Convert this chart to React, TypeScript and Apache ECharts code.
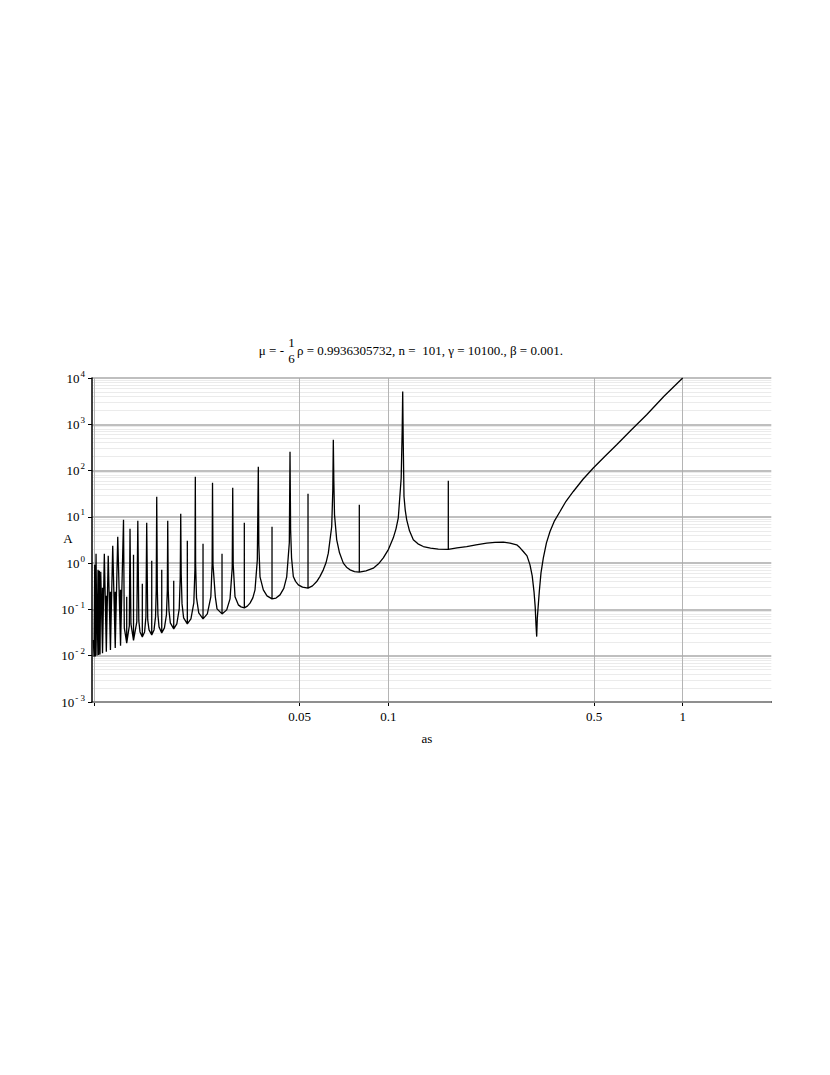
import { useEffect, useRef } from 'react';
import * as echarts from 'echarts';

// ---- data (as, A) ----
const denseAs = [0.009953, 0.010008, 0.010063, 0.010110, 0.010166, 0.010245, 0.010326, 0.010374, 0.010431, 0.010489, 0.010546, 0.010696, 0.010696, 0.010696, 0.010847, 0.011018, 0.011018, 0.011018, 0.011183, 0.011378, 0.011378, 0.011378, 0.011584, 0.011813, 0.011813, 0.011813, 0.012047, 0.012314, 0.012314, 0.012314, 0.012603, 0.012682, 0.012923, 0.012923, 0.012923, 0.013189, 0.013261, 0.013355, 0.013629, 0.013629, 0.013629, 0.013985, 0.014095, 0.014206, 0.014340, 0.014600, 0.014600, 0.014600, 0.014865, 0.015017, 0.015111];
const denseA = [0.02196, 0.009514, 0.9188, 0.009658, 1.589, 0.01005, 0.7163, 0.01041, 0.6816, 0.01067, 0.6485, 0.01127, 0.2923, 0.01127, 1.589, 0.01221, 0.1964, 0.01221, 1.438, 0.01335, 0.2396, 0.01335, 2.366, 0.01475, 0.2396, 0.01475, 3.704, 0.01645, 0.2647, 0.01645, 8.635, 0.03991, 0.01873, 0.1868, 0.01873, 0.04408, 5.516, 0.0487, 0.02153, 1.512, 0.02153, 0.05378, 8.216, 0.05653, 0.0327, 0.0255, 0.3567, 0.0255, 0.0327, 0.06901, 7.435];

const midAs = [
  0.015231, 0.015387, 0.015716, 0.015716, 0.015716, 0.016001, 0.016190, 0.016279, 0.016343,
  0.016420, 0.016497, 0.016640, 0.016995, 0.016995, 0.016995, 0.017358, 0.017631, 0.017756, 0.017811,
  0.017881, 0.017993, 0.018177, 0.018667, 0.018667, 0.018667, 0.019125, 0.019487, 0.019640, 0.019717,
  0.019794, 0.019918, 0.020169, 0.020761, 0.020761, 0.020761, 0.021354, 0.021844, 0.022033, 0.022102,
  0.022154, 0.022310, 0.022698, 0.023474, 0.023474, 0.023474, 0.024277, 0.024950, 0.025206, 0.025284,
  0.025383, 0.025844, 0.026190, 0.027234, 0.027234, 0.027234, 0.028254, 0.028993, 0.029496, 0.029612,
  0.029728, 0.030149, 0.030938, 0.031598, 0.032424, 0.032424, 0.032424, 0.033194, 0.033902, 0.034655, 0.035254, 0.035894, 0.036176,
  0.036318, 0.036660, 0.037619, 0.038718, 0.040268, 0.040268, 0.040268, 0.041544, 0.042868, 0.044157, 0.045174, 0.046102, 0.046355,
];
const midA = [
  0.05941, 0.03612, 0.02817, 1.121, 0.02817, 0.03612, 0.06901, 0.2647, 27.14,
  0.2647, 0.07624, 0.04195, 0.03111, 0.7163, 0.03111, 0.03991, 0.07624, 0.2647, 8.216,
  0.2647, 0.09304, 0.05118, 0.03797, 0.4145, 0.03797, 0.0487, 0.1028, 0.4811, 11.64,
  0.5585, 0.1318, 0.06566, 0.0487, 3.035, 0.0487, 0.06247, 0.1386, 0.7163, 73.41,
  0.9188, 0.1777, 0.08422, 0.06247, 2.614, 0.06247, 0.08012, 0.1868, 0.9188, 54.48,
  0.9188, 0.1868, 0.1028, 0.08012, 1.589, 0.08012, 0.09779, 0.1692, 0.7913, 42.47,
  0.9188, 0.1868, 0.1255, 0.1135, 0.108, 7.435, 0.108, 0.1175, 0.1365, 0.1777, 0.2647, 1.179, 120.8,
  2.487, 0.5057, 0.2647, 0.1964, 0.1692, 6.094, 0.1692, 0.1759, 0.2063, 0.2851, 0.5057, 2.748, 254.9,
];

const bigAs = [
  0.046573, 0.046916, 0.047567, 0.048408, 0.049464, 0.051117, 0.053363, 0.053363, 0.053363, 0.055266, 0.057120, 0.058614, 0.060146, 0.061428, 0.062545, 0.064231, 0.064786, 0.065040,
  0.065295, 0.065654, 0.066793, 0.068265, 0.070331, 0.072111, 0.074115, 0.076766, 0.079707, 0.079707, 0.079707, 0.083993, 0.088929, 0.092624, 0.096165, 0.10015, 0.10398, 0.10620, 0.10813, 0.11061, 0.11148, 0.11192,
];
const bigA = [
  5.248, 1.302, 0.5133, 0.4042, 0.3395, 0.3028, 0.288, 31.5, 0.288, 0.323, 0.4002, 0.5185, 0.7163, 1.015, 1.645, 6.185, 38.45, 463.4,
  63.26, 11.07, 3.19, 1.67, 1.0, 0.8193, 0.7163, 0.6583, 0.6389, 18.22, 0.6389, 0.6816, 0.7798, 0.9657, 1.302, 1.988, 3.524, 5.516, 9.538, 69.87, 762.4, 5132,
];

const tailAs = [0.11236, 0.11306, 0.11412, 0.11548, 0.11803, 0.12160, 0.12610, 0.13149, 0.13911, 0.14785, 0.15989, 0.15989, 0.15989, 0.17120, 0.18462, 0.19860, 0.21590, 0.23040, 0.24583, 0.25910, 0.27299, 0.28020, 0.28745, 0.29590, 0.30292, 0.30820, 0.31255, 0.31550, 0.31748, 0.31922, 0.32072, 0.32578, 0.33013, 0.33613, 0.34450, 0.35423, 0.36690, 0.38304, 0.40140, 0.42504, 0.45860, 0.49696, 0.54460, 0.59675, 0.66740, 0.75447, 0.86400, 1.0];
const tailA = [463.4, 27.54, 14.21, 8.635, 4.994, 3.19, 2.614, 2.285, 2.11, 2.008, 1.988, 60.18, 1.988, 2.142, 2.285, 2.487, 2.707, 2.804, 2.845, 2.707, 2.487, 2.142, 1.782, 1.438, 0.9188, 0.5314, 0.2432, 0.1135, 0.04636, 0.02588, 0.06468, 0.2432, 0.617, 1.282, 2.748, 4.823, 8.216, 13.05, 21.69, 35.33, 64.85, 113.3, 203.8, 361.3, 743.5, 1609, 4042, 10000];

// ---- axes / ticks ----
const xTickValues = [0.01, 0.05, 0.1, 0.5, 1];
const xLabelValues = [0.05, 0.1, 0.5, 1];
const xLabelTexts = ['0.05', '0.1', '0.5', '1'];
const xMin = 0.00985;
const xMax = 2;
const yExpMin = -3;
const yExpMax = 4;
const minorMultipliers = [2, 3, 4, 5, 6, 7, 8, 9];

const titleLeft = 'μ = -';
const titleNum = '1';
const titleDen = '6';
const titleRight = 'ρ = 0.9936305732, n =  101, γ = 10100., β = 0.001.';
const xName = 'as';
const yName = 'A';

const SERIF = '"Liberation Serif", "Times New Roman", serif';

export default function App() {
  const ref = useRef<HTMLDivElement>(null);

  useEffect(() => {
    if (!ref.current) return;
    const chart = echarts.init(ref.current, null, { renderer: 'svg' });
    const lg = Math.log10;
    const xs = [...denseAs, ...midAs, ...bigAs, ...tailAs];
    const ys = [...denseA, ...midA, ...bigA, ...tailA];
    const n = Math.min(xs.length, ys.length);
    const data: number[][] = [];
    for (let i = 0; i < n; i++) data.push([lg(xs[i]), lg(ys[i])]);

    const minorPos: number[] = [];
    for (let e = yExpMin; e < yExpMax; e++) {
      for (const m of minorMultipliers) minorPos.push(e + lg(m));
    }

    const font13 = `13px ${SERIF}`;

    chart.setOption({
      animation: false,
      backgroundColor: '#fff',
      grid: { left: 92, right: 58.7, top: 378, bottom: 373, containLabel: false },
      xAxis: {
        type: 'value',
        min: lg(xMin),
        max: lg(xMax),
        axisLine: { show: true, onZero: false, lineStyle: { color: '#000', width: 1.5 } },
        axisTick: { show: true, customValues: xTickValues.map(lg), length: 4, lineStyle: { color: '#000' } },
        axisLabel: {
          customValues: xLabelValues.map(lg),
          formatter: (v: number) => {
            const i = xLabelValues.findIndex((t) => Math.abs(lg(t) - v) < 1e-6);
            return i >= 0 ? xLabelTexts[i] : '';
          },
          fontFamily: SERIF,
          fontSize: 13,
          color: '#000',
          margin: 8,
        },
        splitLine: { show: true, lineStyle: { color: '#b4b4b4', width: 1 } },
      },
      yAxis: [
        {
          type: 'value',
          min: yExpMin,
          max: yExpMax,
          interval: 1,
          axisLine: { show: true, onZero: false, lineStyle: { color: '#000', width: 1.5 } },
          axisTick: { show: true, length: 4, lineStyle: { color: '#000' } },
          axisLabel: {
            formatter: (v: number) => `{b|10}{e|${v < 0 ? '- ' + -v : v}}`,
            margin: 7,
            rich: {
              b: { fontFamily: SERIF, fontSize: 13, color: '#000' },
              e: { fontFamily: SERIF, fontSize: 9, color: '#000', padding: [0, 0, 9, 1] },
            },
          },
          splitLine: { show: true, lineStyle: { color: '#aaaaaa', width: 1.5 } },
          z: 1,
        },
        {
          type: 'value',
          min: yExpMin,
          max: yExpMax,
          position: 'left',
          axisLine: { show: false },
          axisLabel: { show: false },
          axisTick: { show: false, customValues: minorPos },
          splitLine: { show: true, lineStyle: { color: '#ebebeb', width: 1.2 } },
          z: 0,
        },
      ],
      graphic: [
        { type: 'text', x: 284, y: 350, style: { text: titleLeft, font: font13, fill: '#000', align: 'right', verticalAlign: 'middle' } },
        { type: 'text', x: 291.5, y: 342, style: { text: titleNum, font: font13, fill: '#000', align: 'center', verticalAlign: 'middle' } },
        { type: 'text', x: 291.5, y: 358.5, style: { text: titleDen, font: font13, fill: '#000', align: 'center', verticalAlign: 'middle' } },
        { type: 'text', x: 297, y: 350, style: { text: titleRight, font: font13, fill: '#000', align: 'left', verticalAlign: 'middle' } },
        { type: 'text', x: 68, y: 538, style: { text: yName, font: font13, fill: '#000', align: 'center', verticalAlign: 'middle' } },
        { type: 'text', x: 427, y: 738, style: { text: xName, font: font13, fill: '#000', align: 'center', verticalAlign: 'middle' } },
      ],
      series: [
        {
          type: 'line',
          data,
          yAxisIndex: 0,
          showSymbol: false,
          symbol: 'none',
          clip: true,
          lineStyle: { color: '#000', width: 1.3 },
          z: 5,
        },
      ],
    });

    return () => chart.dispose();
  }, []);

  return (
    <div
      ref={ref}
      style={{ position: 'fixed', left: 0, top: 0, width: 830, height: 1075, background: '#fff' }}
    />
  );
}
